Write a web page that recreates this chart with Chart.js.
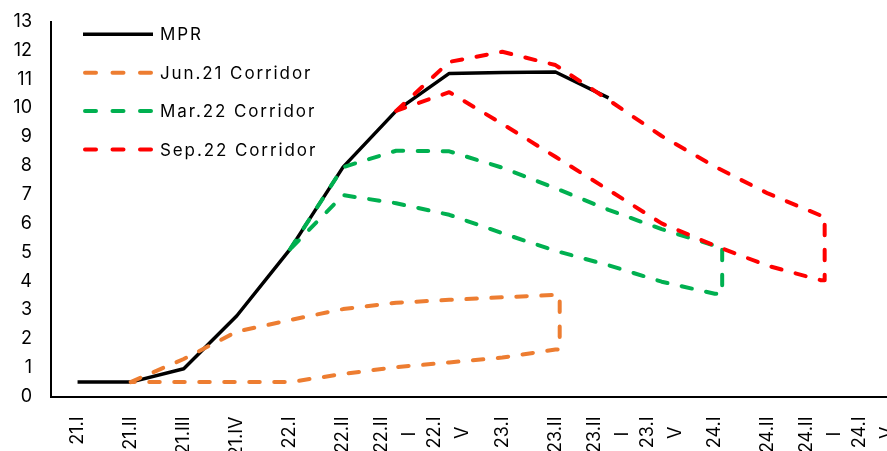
<!DOCTYPE html>
<html>
<head>
<meta charset="utf-8">
<script src="https://cdn.jsdelivr.net/npm/chart.js@4.4.1/dist/chart.umd.min.js"></script>
<style>
  html, body { margin: 0; padding: 0; background: #fff; overflow: hidden; }
  canvas { display: block; }
</style>
</head>
<body>
<canvas id="rates" width="940" height="480"></canvas>
<script>
// Quarter labels (wrapped ones are given line by line)
const quarters = ['21.I', '21.II', '21.III', '21.IV', '22.I', '22.II', ['22.II', 'I'], ['22.I', 'V'],
                  '23.I', '23.II', ['23.II', 'I'], ['23.I', 'V'], '24.I', '24.II', ['24.II', 'I'], ['24.I', 'V']];

// Monetary policy rate, quarterly average (%)
const mpr = [0.5, 0.5, 0.96, 2.8, 5.1, 7.95, 9.9, 11.2, 11.23, 11.25, 10.35, null, null, null, null, null];

// Projected corridors: first quarter index, upper and lower bounds, x of the closing edge
const jun21Start = 1;
const jun21Upper = [0.5, 1.3, 2.25, 2.65, 3.03, 3.25, 3.35, 3.44, 3.52];
const jun21Lower = [0.5, 0.5, 0.5, 0.5, 0.78, 1.02, 1.18, 1.35, 1.63];
const jun21Edge = 9.08;

const mar22Start = 4;
const mar22Upper = [5.1, 7.95, 8.52, 8.5, 7.93, 7.22, 6.47, 5.8, 5.23];
const mar22Lower = [5.1, 6.98, 6.7, 6.3, 5.66, 5.05, 4.55, 3.98, 3.56];
const mar22Edge = 12.14;

const sep22Start = 6;
const sep22Upper = [9.9, 11.6, 11.95, 11.49, 10.28, 9.03, 7.97, 7.04, 6.27];
const sep22Lower = [9.9, 10.55, 9.45, 8.31, 7.16, 6.0, 5.23, 4.53, 4.03];
const sep22Edge = 14.07;

// Y axis range
const yMin = 0, yMax = 13, yStep = 1;

const FONT = "Inter, 'DejaVu Sans', sans-serif";
const TICK_SIZE = 18;
Chart.defaults.font.family = FONT;
Chart.defaults.color = '#000';

// Closed outline: along the upper bound, down the edge, back along the lower bound
function corridor(start, upper, lower, edgeX) {
  const pts = upper.map((y, k) => ({ x: start + k, y }));
  pts.push({ x: edgeX, y: upper[upper.length - 1] });
  pts.push({ x: edgeX, y: lower[lower.length - 1] });
  for (let k = lower.length - 1; k >= 0; k--) pts.push({ x: start + k, y: lower[k] });
  return pts;
}

const mprPoints = mpr.map((y, i) => ({ x: i, y })).filter(p => p.y !== null);

// Second line of a wrapped label is centred on the first one
const measure = document.createElement('canvas').getContext('2d');
measure.font = TICK_SIZE + 'px ' + FONT;
function tickText(label) {
  if (!Array.isArray(label)) return label;
  const [a, b] = label;
  const gap = (measure.measureText(a).width - measure.measureText(b).width) / 2;
  const n = Math.max(0, Math.round(gap / measure.measureText(' ').width));
  return [a, b + ' '.repeat(n)];
}

// Legend drawn inside the plot area
const insetLegend = {
  id: 'insetLegend',
  afterDatasetsDraw(chart, args, o) {
    const ctx = chart.ctx;
    chart.data.datasets.forEach((ds, i) => {
      const y = o.top + i * o.rowGap;
      ctx.save();
      ctx.strokeStyle = ds.borderColor;
      ctx.lineWidth = ds.borderWidth;
      ctx.beginPath();
      if (ds.borderDash) {
        ctx.setLineDash(o.dash);
        ctx.lineCap = 'round';
        ctx.moveTo(o.x0 + ds.borderWidth / 2, y);
      } else {
        ctx.lineCap = 'butt';
        ctx.moveTo(o.x0, y);
      }
      ctx.lineTo(o.x1, y);
      ctx.stroke();
      ctx.setLineDash([]);
      ctx.fillStyle = '#000';
      ctx.font = o.fontSize + 'px ' + FONT;
      ctx.textBaseline = 'middle';
      ctx.textAlign = 'left';
      if ('letterSpacing' in ctx) ctx.letterSpacing = o.letterSpacing;
      ctx.fillText(ds.label, o.textX, y + 1);
      ctx.restore();
    });
  }
};

const dashed = { borderDash: [10.5, 14.5], borderCapStyle: 'round', borderJoinStyle: 'round', borderWidth: 4 };

new Chart(document.getElementById('rates'), {
  type: 'line',
  data: {
    datasets: [
      { label: 'MPR', data: mprPoints, borderColor: '#000000', borderWidth: 3.5, borderJoinStyle: 'round', order: 3 },
      Object.assign({ label: 'Jun.21 Corridor', data: corridor(jun21Start, jun21Upper, jun21Lower, jun21Edge), borderColor: '#ED7D31', order: 2 }, dashed),
      Object.assign({ label: 'Mar.22 Corridor', data: corridor(mar22Start, mar22Upper, mar22Lower, mar22Edge), borderColor: '#00B050', order: 1 }, dashed),
      Object.assign({ label: 'Sep.22 Corridor', data: corridor(sep22Start, sep22Upper, sep22Lower, sep22Edge), borderColor: '#FF0000', order: 0 }, dashed)
    ]
  },
  options: {
    responsive: false,
    animation: false,
    events: [],
    layout: { padding: { left: 0, top: 21.5, right: 39.4, bottom: 0 } },
    elements: { point: { radius: 0 }, line: { tension: 0, fill: false } },
    plugins: {
      legend: { display: false },
      tooltip: { enabled: false },
      insetLegend: { x0: 83, x1: 153, textX: 160, top: 34.3, rowGap: 38.4, dash: [11, 16.5], fontSize: 17, letterSpacing: '1.9px' }
    },
    scales: {
      x: {
        type: 'linear',
        bounds: 'data',
        min: -0.5,
        max: quarters.length - 0.5,
        grid: { display: false, drawTicks: true, tickLength: 20 },
        border: { display: true, color: '#000', width: 2 },
        afterBuildTicks(scale) {
          scale.ticks = quarters.map((q, i) => ({ value: Array.isArray(q) ? i - 0.27 : i }));
        },
        afterFit(scale) { scale.height = 480 - 396.5; },
        ticks: {
          autoSkip: false,
          minRotation: 90,
          maxRotation: 90,
          padding: 0,
          color: '#000',
          font: { size: TICK_SIZE, lineHeight: '28px' },
          callback: (value, index) => tickText(quarters[index])
        }
      },
      y: {
        min: yMin,
        max: yMax,
        grid: { display: false, drawTicks: true, tickLength: 19 },
        border: { display: true, color: '#000', width: 2 },
        afterFit(scale) { scale.width = 51; },
        ticks: { stepSize: yStep, padding: 0, color: '#000', font: { size: TICK_SIZE, lineHeight: 1 } }
      }
    }
  },
  plugins: [insetLegend]
});
</script>
</body>
</html>
